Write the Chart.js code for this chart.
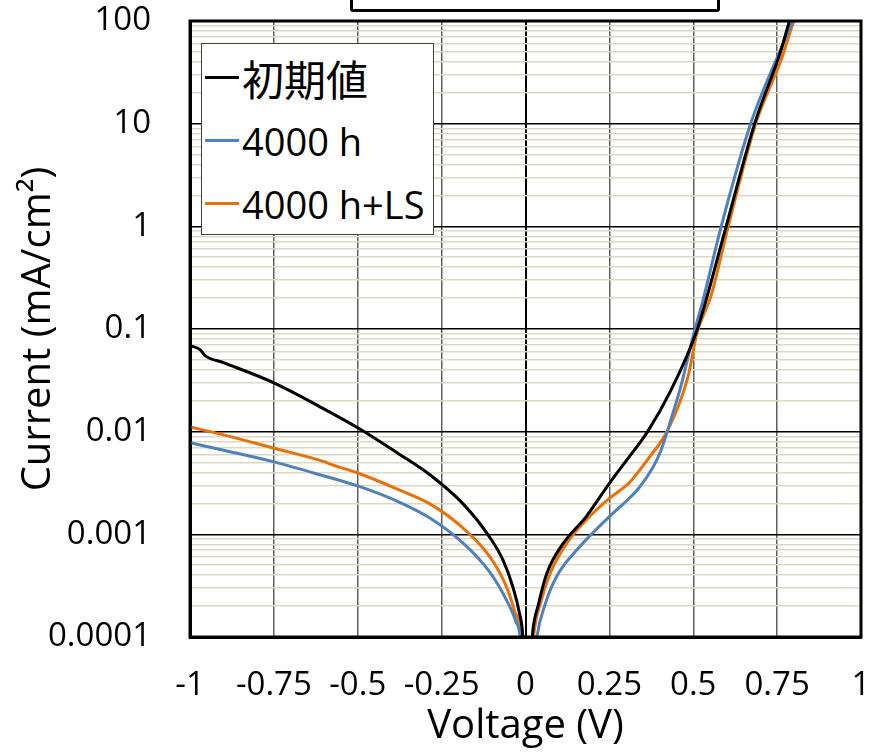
<!DOCTYPE html>
<html>
<head>
<meta charset="utf-8">
<script src="https://cdn.jsdelivr.net/npm/chart.js@4.4.1/dist/chart.umd.min.js"></script>
<style>
  html, body { margin: 0; padding: 0; background: #fff; }
  #wrap { position: relative; width: 882px; height: 755px; overflow: hidden; }
  #titleBox {
    position: absolute; left: 350px; top: -20px; width: 370px; height: 32px;
    box-sizing: border-box; border: 3px solid #000; border-radius: 3px; background: #fff;
  }
  #legend {
    position: absolute; left: 201px; top: 43px; width: 233px; height: 192px;
    box-sizing: border-box; border: 1.5px solid #404040; background: #fff;
    padding: 2px 0 0 3px;
    font-family: "Open Sans", "Noto Sans CJK JP", sans-serif; font-size: 38px; color: #000;
  }
  .row { height: 63px; display: flex; align-items: center; white-space: nowrap; }
  .row.cjk { font-size: 42px; }
  .mark { display: inline-block; width: 34px; height: 3px; margin-right: 3px; }
</style>
</head>
<body>
<div id="wrap">
  <canvas id="ivChart" width="882" height="755"></canvas>
  <div id="titleBox"></div>
  <div id="legend"></div>
</div>
<script>
// axis ticks
const xTicks = [-1, -0.75, -0.5, -0.25, 0, 0.25, 0.5, 0.75, 1];
const xTickLabels = ["-1", "-0.75", "-0.5", "-0.25", "0", "0.25", "0.5", "0.75", "1"];
const yDecades = [0.0001, 0.001, 0.01, 0.1, 1, 10, 100];
const yTickLabels = ["0.0001", "0.001", "0.01", "0.1", "1", "10", "100"];

const seriesNames = ["一初期値", "4000 h", "4000 h+LS"];
const seriesColors = ["#000000", "#4f81bd", "#e8710a"];

// 初期値
const vInit = [-1, -0.97, -0.955, -0.9, -0.75, -0.6, -0.5, -0.375, -0.285, -0.186, -0.107, -0.067, -0.038, -0.018, -0.008, -0.002,
  0.008, 0.02, 0.039, 0.064, 0.113, 0.181, 0.25, 0.3, 0.364, 0.434, 0.508, 0.538, 0.598, 0.683, 0.76, 0.787, 0.8];
const jInit = [0.069, 0.063, 0.055, 0.047, 0.0299, 0.0166, 0.0109, 0.006, 0.0038, 0.00198, 0.00094, 0.00056, 0.00031, 0.00017, 0.0001, 0.00003,
  0.00002, 0.0001, 0.00021, 0.00042, 0.00082, 0.00149, 0.00314, 0.0052, 0.01, 0.0255, 0.091, 0.19, 1.0, 10, 50, 100, 130];

// 4000 h
const v4000 = [-1, -0.9, -0.75, -0.6, -0.5, -0.375, -0.285, -0.186, -0.107, -0.057, -0.028, -0.016, -0.006,
  0.012, 0.034, 0.059, 0.093, 0.152, 0.25, 0.3, 0.338, 0.38, 0.404, 0.435, 0.463, 0.502, 0.529, 0.583, 0.672, 0.756, 0.797, 0.81];
const j4000 = [0.0078, 0.0066, 0.00508, 0.0037, 0.00296, 0.00205, 0.00144, 0.00082, 0.00043, 0.00023, 0.00014, 0.0001, 0.00003,
  0.00002, 0.0001, 0.00021, 0.00039, 0.0007, 0.00149, 0.0021, 0.00283, 0.0045, 0.0066, 0.0136, 0.0276, 0.091, 0.19, 0.99, 10.2, 49, 100, 130];

// 4000 h+LS
const v4000LS = [-1, -0.9, -0.75, -0.6, -0.58, -0.5, -0.375, -0.285, -0.186, -0.107, -0.057, -0.033, -0.013, -0.004,
  0.01, 0.024, 0.044, 0.074, 0.123, 0.191, 0.25, 0.31, 0.365, 0.425, 0.484, 0.511, 0.553, 0.604, 0.687, 0.762, 0.8, 0.815];
const j4000LS = [0.0111, 0.0093, 0.0069, 0.0051, 0.0048, 0.00396, 0.0027, 0.00198, 0.00115, 0.00061, 0.00031, 0.00018, 0.0001, 0.00003,
  0.00002, 0.0001, 0.00021, 0.00042, 0.00082, 0.00149, 0.00224, 0.0032, 0.0054, 0.0105, 0.034, 0.091, 0.21, 0.99, 10.2, 42, 100, 130];

function toPoints(vs, js) {
  return vs.map((v, i) => ({ x: v, y: js[i] }));
}

function isDecade(value) {
  return yDecades.findIndex((d) => Math.abs(Math.log10(value) - Math.log10(d)) < 1e-6);
}

const frame = {
  id: "frame",
  afterDatasetsDraw(chart) {
    const { ctx, chartArea: a } = chart;
    ctx.save();
    ctx.strokeStyle = "#000";
    ctx.lineWidth = 3;
    ctx.strokeRect(a.left, a.top, a.right - a.left, a.bottom - a.top);
    ctx.restore();
  },
};

const tickFont = { family: "'Open Sans'", size: 33 };
const titleFont = { family: "'Open Sans'", size: 40, lineHeight: 1 };

const ctx = document.getElementById("ivChart").getContext("2d");
const ivChart = new Chart(ctx, {
  type: "line",
  data: {
    datasets: [
      { label: seriesNames[0], data: toPoints(vInit, jInit) },
      { label: seriesNames[1], data: toPoints(v4000, j4000) },
      { label: seriesNames[2], data: toPoints(v4000LS, j4000LS) },
    ].map((ds, i) => ({
      ...ds,
      borderColor: seriesColors[i],
      backgroundColor: seriesColors[i],
      borderWidth: 3,
      pointRadius: 0,
      cubicInterpolationMode: "monotone",
      fill: false,
    })),
  },
  options: {
    responsive: false,
    animation: false,
    layout: { padding: { top: 21, right: 21, left: 0, bottom: 0 } },
    plugins: { legend: { display: false }, tooltip: { enabled: false } },
    scales: {
      x: {
        type: "linear",
        min: -1,
        max: 1,
        afterFit: (s) => {
          s.height = 118;
          s.paddingLeft = 0;
          s.paddingRight = 0;
        },
        afterBuildTicks: (s) => { s.ticks = xTicks.map((v) => ({ value: v })); },
        ticks: {
          font: tickFont,
          color: "#000",
          padding: 29,
          autoSkip: false,
          maxRotation: 0,
          callback: (v) => {
            const i = xTicks.findIndex((t) => Math.abs(t - v) < 1e-9);
            return i >= 0 ? xTickLabels[i] : "";
          },
        },
        grid: {
          drawTicks: false,
          color: (c) => (c.tick && Math.abs(c.tick.value) < 1e-9 ? "#000" : "#5f5f5f"),
          lineWidth: (c) => (c.tick && Math.abs(c.tick.value) < 1e-9 ? 2 : 1.5),
        },
        border: { color: "#000", width: 3 },
        title: {
          display: true,
          text: "Voltage (V)",
          font: titleFont,
          color: "#000",
          padding: { top: 0, bottom: 8 },
        },
      },
      y: {
        type: "logarithmic",
        min: 0.0001,
        max: 100,
        afterFit: (s) => {
          s.width = 190;
          s.paddingTop = 0;
          s.paddingBottom = 0;
        },
        afterBuildTicks: (s) => {
          const ticks = [];
          for (let i = 0; i < yDecades.length - 1; i++) {
            for (let m = 1; m <= 9; m++) ticks.push({ value: yDecades[i] * m });
          }
          ticks.push({ value: yDecades[yDecades.length - 1] });
          s.ticks = ticks;
        },
        ticks: {
          font: tickFont,
          color: "#000",
          padding: 39,
          autoSkip: false,
          callback: (v) => {
            const i = isDecade(v);
            return i >= 0 ? yTickLabels[i] : "";
          },
        },
        grid: {
          drawTicks: false,
          color: (c) => (c.tick && isDecade(c.tick.value) >= 0 ? "#000" : "#ddd8c3"),
          lineWidth: 1.5,
        },
        border: { color: "#000", width: 3 },
        title: {
          display: true,
          text: "Current (mA/cm²)",
          font: titleFont,
          color: "#000",
          padding: { top: 19, bottom: 0 },
        },
      },
    },
  },
  plugins: [frame],
});

// legend box built from the datasets
const legend = document.getElementById("legend");
ivChart.data.datasets.forEach((ds, i) => {
  const row = document.createElement("div");
  row.className = i === 0 ? "row cjk" : "row";
  const label = i === 0 ? ds.label.slice(1) : ds.label;
  row.innerHTML = `<span class="mark" style="background:${ds.borderColor}"></span><span>${label}</span>`;
  legend.appendChild(row);
});
</script>
</body>
</html>
